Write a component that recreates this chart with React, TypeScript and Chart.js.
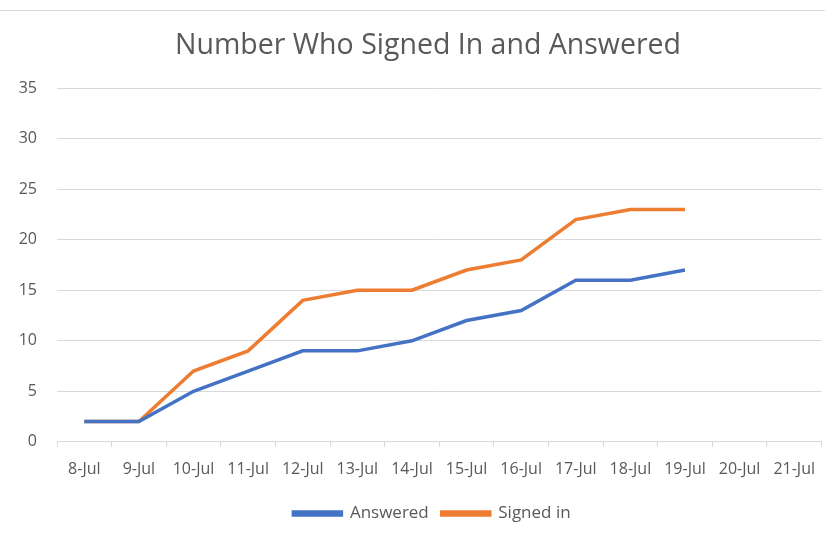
import React, { useEffect, useRef } from "react";
import { Chart, registerables } from "chart.js";

Chart.register(...registerables);

const categories = ["8-Jul", "9-Jul", "10-Jul", "11-Jul", "12-Jul", "13-Jul", "14-Jul", "15-Jul", "16-Jul", "17-Jul", "18-Jul", "19-Jul", "20-Jul", "21-Jul"];
const answered = [2, 2, 5, 7, 9, 9, 10, 12, 13, 16, 16, 17, null, null];
const signedIn = [2, 2, 7, 9, 14, 15, 15, 17, 18, 22, 23, 23, null, null];
const titleText = "Number Who Signed In and Answered";

const FONT = "'Open Sans', Lato, sans-serif";
const TEXT = "#595959";
const GRID = "#d9d9d9";

const shiftPlugin = {
  id: "shiftBlocks",
  afterLayout(chart: any) {
    if (chart.titleBlock) { chart.titleBlock.left += 6; chart.titleBlock.right += 6; }
    if (chart.legend) { chart.legend.left += 10; chart.legend.right += 10; }
  },
};

export default function App() {
  const ref = useRef<HTMLCanvasElement>(null);
  useEffect(() => {
    document.body.style.margin = "0";
    document.body.style.overflow = "hidden";
    const chart = new Chart(ref.current!, {
      type: "line",
      data: {
        labels: categories,
        datasets: [
          { label: "Answered", data: answered, borderColor: "#4472C4", backgroundColor: "#4472C4", borderWidth: 3.5, pointRadius: 0, tension: 0 },
          { label: "Signed in", data: signedIn, borderColor: "#ED7D31", backgroundColor: "#ED7D31", borderWidth: 3.5, pointRadius: 0, tension: 0 },
        ],
      },
      options: {
        animation: false,
        responsive: false,
        layout: { padding: { top: 1, left: 16, right: 0, bottom: 1 } },
        plugins: {
          title: { display: true, text: titleText, color: TEXT, font: { family: FONT, size: 28.5, weight: "normal" }, padding: { top: 28, bottom: 25 } },
          legend: {
            position: "bottom",
            labels: { boxWidth: 48, boxHeight: 3, color: TEXT, font: { family: FONT, size: 17 }, padding: 13 },
          },
          tooltip: { enabled: false },
        },
        scales: {
          x: {
            offset: true,
            grid: { offset: true, drawOnChartArea: false, drawTicks: true, tickLength: 5, color: GRID },
            border: { color: GRID },
            ticks: { color: TEXT, font: { family: FONT, size: 16 }, maxRotation: 0, autoSkip: false, padding: 13 },
          },
          y: {
            min: 0,
            max: 35,
            afterFit: (axis: any) => { axis.width = 41; },
            ticks: { stepSize: 5, color: TEXT, font: { family: FONT, size: 16 }, padding: 20 },
            grid: { color: GRID, drawTicks: false, lineWidth: 1 },
            border: { display: false },
          },
        },
      },
      plugins: [shiftPlugin],
    });
    return () => chart.destroy();
  }, []);
  return (
    <div style={{ position: "absolute", left: 0, top: 0, width: 825, height: 533, overflow: "hidden", background: "#fff" }}>
      <div style={{ position: "absolute", left: 0, top: 10, width: 825, height: 1, background: "#d9d9d9" }} />
      <canvas ref={ref} width={828} height={533} style={{ position: "absolute", left: 0, top: 0 }} />
    </div>
  );
}
